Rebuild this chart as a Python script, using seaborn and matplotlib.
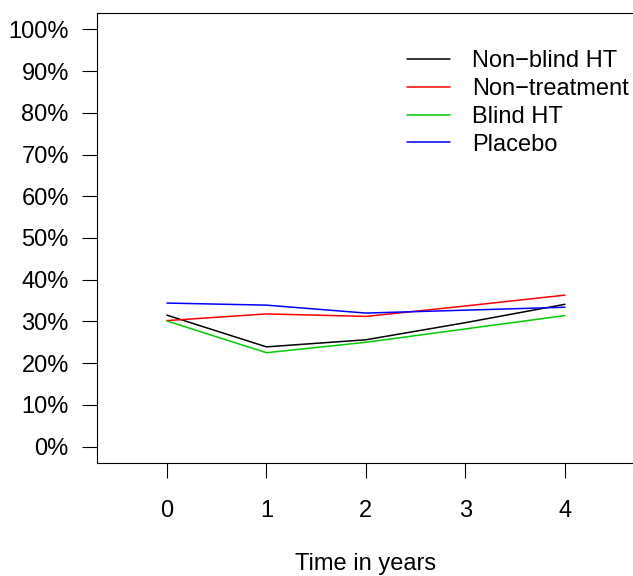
import numpy as np
import pandas as pd
import seaborn as sns
import matplotlib.pyplot as plt
from matplotlib.ticker import FixedLocator

years = [0, 1, 2, 3, 4]
groups = ["Non\u2212blind HT", "Non\u2212treatment", "Blind HT", "Placebo"]
non_blind_ht = [31.5, 23.9, 25.6, 29.7, 34.1]
non_treatment = [30.2, 31.8, 31.2, 33.7, 36.3]
blind_ht = [30.1, 22.5, 25.0, 28.2, 31.4]
placebo = [34.4, 33.9, 32.0, 32.7, 33.4]
y_ticks = [0, 10, 20, 30, 40, 50, 60, 70, 80, 90, 100]
y_tick_labels = [f"{v}%" for v in y_ticks]
colors = {"Non\u2212blind HT": "black", "Non\u2212treatment": "#ff0000",
          "Blind HT": "#00cd00", "Placebo": "#0000ff"}

df = pd.DataFrame({
    "year": years * 4,
    "pct": non_blind_ht + non_treatment + blind_ht + placebo,
    "group": np.repeat(groups, len(years)),
})

sns.set_style("white")
plt.rcParams["font.family"] = ["Liberation Sans", "DejaVu Sans"]
plt.rcParams["text.color"] = "black"
plt.rcParams["axes.labelcolor"] = "black"

fig = plt.figure(figsize=(6.33, 5.76), dpi=100)
ax = fig.add_axes([0.1537, 0.1957, 0.8487, 0.7823])

sns.lineplot(data=df, x="year", y="pct", hue="group", hue_order=groups,
             palette=colors, linewidth=1.1, ax=ax)

ax.set_xlim(-0.7, 4.7)
ax.set_ylim(-4, 104)
ax.yaxis.set_major_locator(FixedLocator(y_ticks))
ax.set_yticklabels(y_tick_labels)
ax.set_xticks(years)
ax.set_xticklabels([str(y) for y in years])

for s in ax.spines.values():
    s.set_visible(True)
    s.set_color("black")
    s.set_linewidth(0.8)

ax.tick_params(axis="y", direction="out", length=10.5, width=0.8, pad=10,
               labelsize=17, left=True, colors="black")
ax.tick_params(axis="x", direction="out", length=10.8, width=0.8, pad=16,
               labelsize=17, bottom=True, colors="black")

ax.set_xlabel("Time in years", fontsize=17, labelpad=22, color="black")
ax.set_ylabel("")

leg = ax.legend(loc="upper left", bbox_to_anchor=(0.558, 0.938), frameon=False,
                fontsize=17, handlelength=1.85, handletextpad=0.93,
                labelspacing=0.25, borderaxespad=0, labelcolor="black")
for line in leg.get_lines():
    line.set_linewidth(1.1)

fig.savefig("out.png", dpi=100)
